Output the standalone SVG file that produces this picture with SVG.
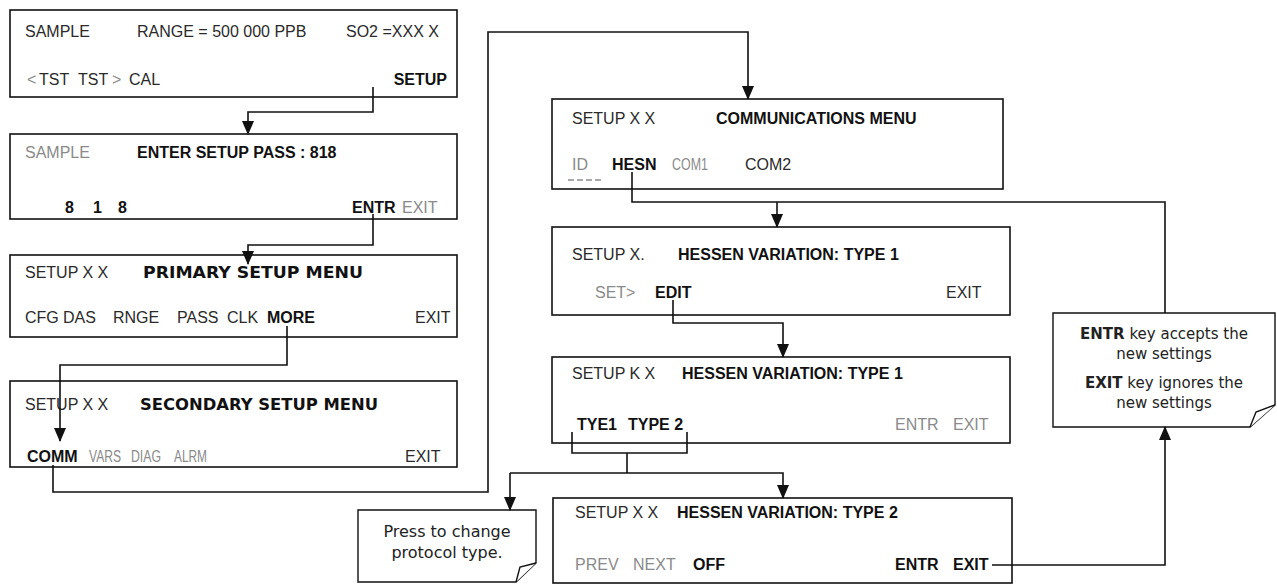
<svg xmlns="http://www.w3.org/2000/svg" width="1277" height="584" viewBox="0 0 1277 584">
<defs>
<style>
.box{fill:#fff;stroke:#111;stroke-width:1.6}
.note{fill:#fff;stroke:#111;stroke-width:1.4}
.t{font-family:"Liberation Sans",Arial,sans-serif;font-size:16px;fill:#2a2a2a}
.f{fill:#8a8a8a}
.b{font-weight:bold;fill:#111}
.v{font-family:"DejaVu Sans",Verdana,sans-serif;font-weight:bold;font-size:16px;fill:#111}
.n{font-family:"DejaVu Sans",Verdana,sans-serif;font-size:15px;fill:#222;text-anchor:middle}
.c{fill:none;stroke:#111;stroke-width:1.6}
.a{marker-end:url(#ah)}
</style>
<marker id="ah" markerUnits="userSpaceOnUse" markerWidth="14" markerHeight="12" viewBox="0 0 14 12" refX="13" refY="6" orient="auto">
<path d="M0,0 L14,6 L0,12 Z" fill="#111"/>
</marker>
</defs>

<g id="box-sample">
<rect class="box" x="10" y="10" width="447" height="87"/>
<text class="t" x="25" y="37">SAMPLE</text>
<text class="t" x="137" y="37">RANGE = 500 000 PPB</text>
<text class="t" x="346" y="37">SO2 =XXX X</text>
<text class="t f" x="27" y="85">&lt;</text>
<text class="t" x="39" y="85">TST</text>
<text class="t" x="78" y="85">TST</text>
<text class="t f" x="112" y="85">&gt;</text>
<text class="t" x="129" y="85">CAL</text>
<text class="t b" x="447" y="85" text-anchor="end">SETUP</text>
</g>

<g id="box-pass">
<rect class="box" x="10" y="134" width="447" height="85"/>
<text class="t f" x="25" y="158">SAMPLE</text>
<text class="t b" x="137" y="158">ENTER SETUP PASS : 818</text>
<text class="t b" x="65" y="213">8</text>
<text class="t b" x="93" y="213">1</text>
<text class="t b" x="118" y="213">8</text>
<text class="t b" x="352" y="213">ENTR</text>
<text class="t f" x="402" y="213">EXIT</text>
</g>

<g id="box-primary">
<rect class="box" x="10" y="255" width="447" height="82"/>
<text class="t" x="25" y="278">SETUP X X</text>
<text class="v" x="143" y="278" textLength="220" lengthAdjust="spacingAndGlyphs">PRIMARY SETUP MENU</text>
<text class="t" x="25" y="323">CFG</text>
<text class="t" x="63" y="323">DAS</text>
<text class="t" x="113" y="323">RNGE</text>
<text class="t" x="177" y="323">PASS</text>
<text class="t" x="227" y="323">CLK</text>
<text class="t b" x="267" y="323">MORE</text>
<text class="t" x="415" y="323">EXIT</text>
</g>

<g id="box-secondary">
<rect class="box" x="10" y="381" width="447" height="86"/>
<text class="t" x="25" y="410">SETUP X X</text>
<text class="v" x="140" y="410" textLength="238" lengthAdjust="spacingAndGlyphs">SECONDARY SETUP MENU</text>
<text class="t b" x="27" y="462">COMM</text>
<text class="t f" x="89" y="462" textLength="32" lengthAdjust="spacingAndGlyphs">VARS</text>
<text class="t f" x="131" y="462" textLength="30" lengthAdjust="spacingAndGlyphs">DIAG</text>
<text class="t f" x="174" y="462" textLength="33" lengthAdjust="spacingAndGlyphs">ALRM</text>
<text class="t" x="405" y="462">EXIT</text>
</g>

<g id="box-comm">
<rect class="box" x="552" y="99" width="451" height="90"/>
<text class="t" x="572" y="124">SETUP X X</text>
<text class="t b" x="716" y="124">COMMUNICATIONS MENU</text>
<text class="t f" x="572" y="170">ID</text>
<line x1="568" y1="180" x2="603" y2="180" stroke="#555" stroke-width="1" stroke-dasharray="6,3"/>
<text class="t b" x="612" y="170">HESN</text>
<text class="t f" x="672" y="170" textLength="36" lengthAdjust="spacingAndGlyphs">COM1</text>
<text class="t" x="745" y="170">COM2</text>
</g>

<g id="box-hessen1">
<rect class="box" x="552" y="227" width="458" height="88"/>
<text class="t" x="572" y="260">SETUP X.</text>
<text class="t b" x="678" y="260">HESSEN VARIATION: TYPE 1</text>
<text class="t f" x="595" y="298">SET&gt;</text>
<text class="t b" x="655" y="298">EDIT</text>
<text class="t" x="946" y="298">EXIT</text>
</g>

<g id="box-hessen-edit">
<rect class="box" x="552" y="357" width="458" height="86"/>
<text class="t" x="572" y="379">SETUP K X</text>
<text class="t b" x="682" y="379">HESSEN VARIATION: TYPE 1</text>
<text class="t b" x="577" y="430">TYE1</text>
<text class="t b" x="628" y="430">TYPE 2</text>
<text class="t f" x="895" y="430">ENTR</text>
<text class="t f" x="953" y="430">EXIT</text>
</g>

<g id="box-hessen2">
<rect class="box" x="553" y="498" width="459" height="85"/>
<text class="t" x="575" y="518">SETUP X X</text>
<text class="t b" x="677" y="518">HESSEN VARIATION: TYPE 2</text>
<text class="t f" x="575" y="570">PREV</text>
<text class="t f" x="633" y="570">NEXT</text>
<text class="t b" x="693" y="570">OFF</text>
<text class="t b" x="895" y="570">ENTR</text>
<text class="t b" x="953" y="570">EXIT</text>
</g>

<g id="note-press">
<path class="note" d="M358,510 H536 V563 L516,582 H358 Z"/>
<path class="note" d="M516,582 L520,567 L536,563"/>
<text class="n" x="447" y="537" style="font-size:16px">Press to change</text>
<text class="n" x="447" y="558" style="font-size:16px">protocol type.</text>
</g>

<g id="note-entr">
<path class="note" d="M1053,313 H1275 V405 L1250,427 H1053 Z"/>
<path class="note" d="M1250,427 L1256,412 L1275,405"/>
<text class="n" x="1164" y="339"><tspan font-weight="bold">ENTR</tspan> key accepts the</text>
<text class="n" x="1164" y="359">new settings</text>
<text class="n" x="1164" y="388"><tspan font-weight="bold">EXIT</tspan> key ignores the</text>
<text class="n" x="1164" y="408">new settings</text>
</g>

<g id="connectors">
<path class="c a" d="M373,87 V112 H248 V134"/>
<path class="c a" d="M373,214 V245 H248 V264"/>
<path class="c a" d="M287,326 V365 H60 V441"/>
<path class="c a" d="M53,465 V492 H488 V32 H748 V99"/>
<path class="c" d="M632,172 V202 H1165 V313"/>
<path class="c a" d="M777,202 V227"/>
<path class="c a" d="M673,300 V323 H783 V357"/>
<path class="c" d="M572,432 V453 H687 V432"/>
<path class="c" d="M627,453 V473"/>
<path class="c a" d="M510,473 V510"/>
<path class="c a" d="M510,473 H783 V498"/>
<path class="c a" d="M992,565 H1165 V427"/>
</g>
</svg>
